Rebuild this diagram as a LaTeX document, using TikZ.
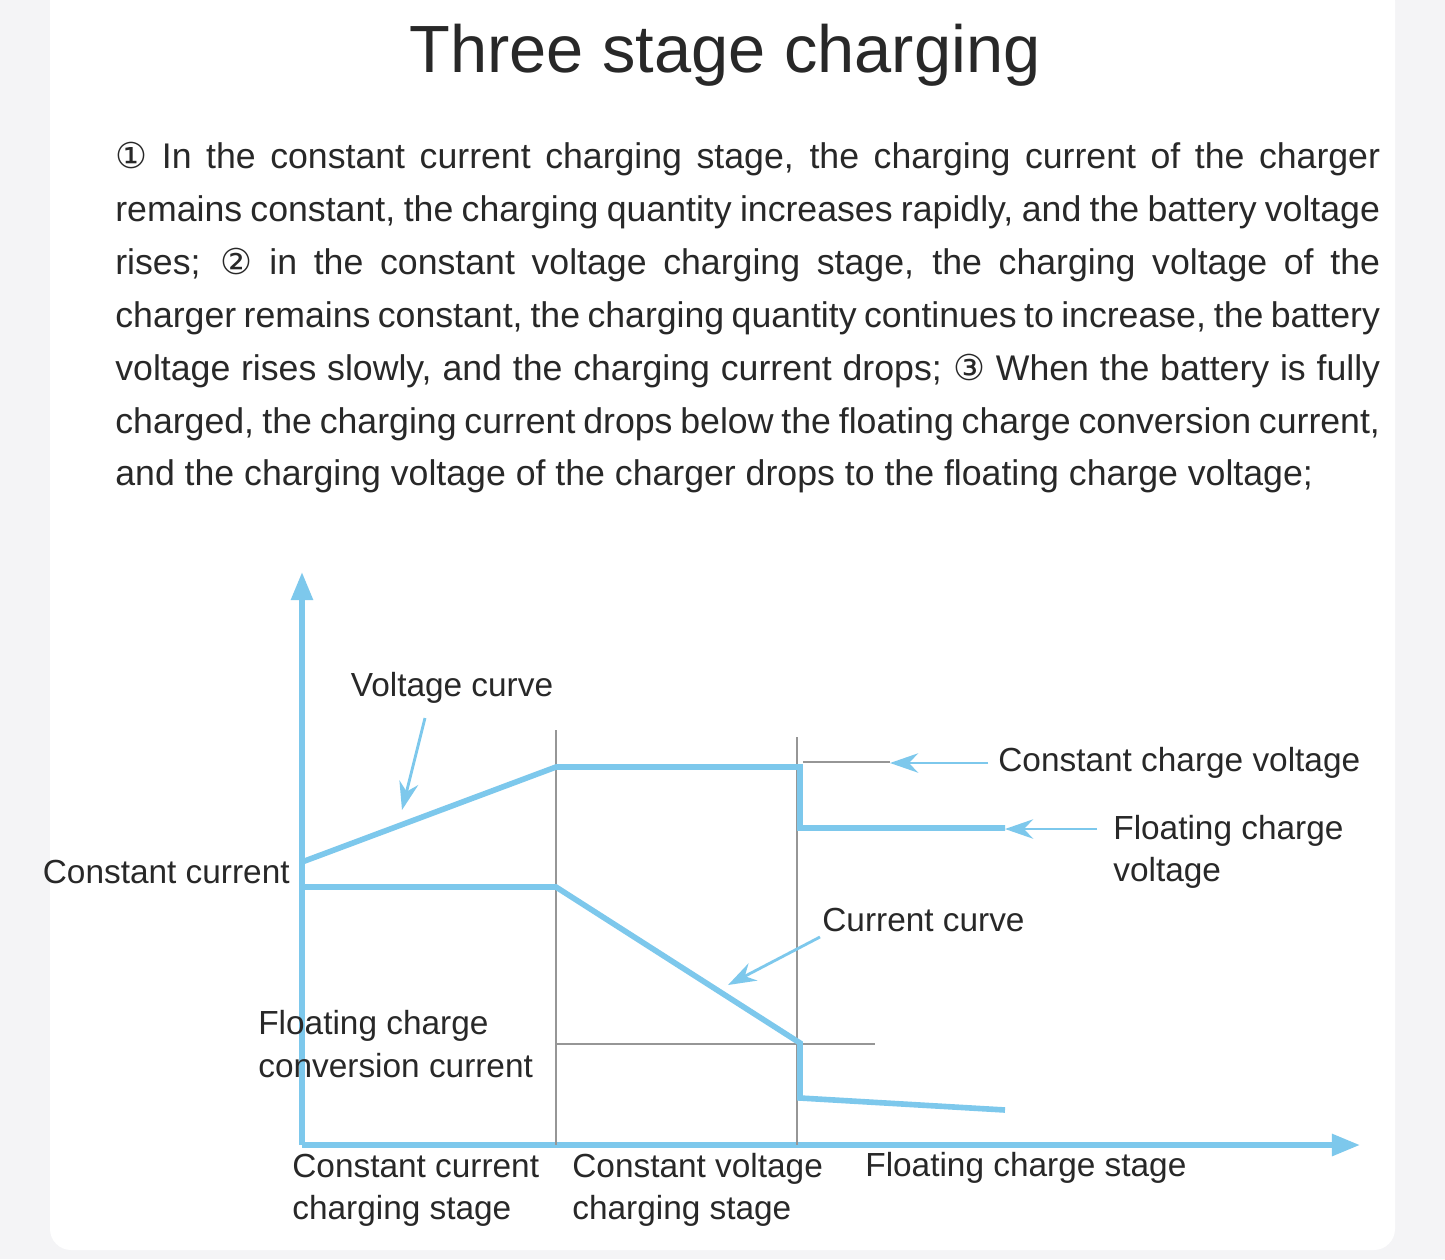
\documentclass[tikz,border=0pt]{standalone}
\usepackage{fontspec}
\setmainfont{Liberation Sans}
\newfontfamily\symfont{DejaVu Sans}
\usepackage{tikz}
\usetikzlibrary{arrows.meta,positioning}
\definecolor{chblue}{RGB}{125,200,236}
\definecolor{chgray}{RGB}{150,150,150}
\definecolor{chtext}{RGB}{40,40,40}
\definecolor{chback}{RGB}{244,244,246}
\tikzset{
  curve/.style={line width=3.2pt,color=chblue},
  axis/.style={line width=3.2pt,color=chblue,-{Triangle[length=16pt,width=12pt]}},
  pointer/.style={line width=1.6pt,color=chblue,-{Stealth[length=16pt,width=11pt]}},
  guide/.style={line width=0.6pt,color=chgray},
  lbl/.style={font=\fontsize{19}{25}\selectfont,text=chtext,inner sep=0pt,align=left}
}
\begin{document}
\begin{tikzpicture}[x=0.02cm,y=-0.02cm]
    % Background and panel
    \useasboundingbox (0,0) rectangle (1445,1259);
    \fill[chback] (0,0) rectangle (1445,1259);
    \fill[white,rounded corners=12pt] (50,-20) rectangle (1395,1250);

    % Title and text
    \node[lbl,font=\fontsize{38}{44}\selectfont] (title) at (725,55) {Three stage charging};
    \node[lbl,anchor=north west,text width=25.3cm,align=justify,
          font=\fontsize{20.3}{30.1}\selectfont] (body) at (115,142)
      {{\symfont ①} In the constant current charging stage, the charging current of the charger\linebreak
       remains constant, the charging quantity increases rapidly, and the battery voltage\linebreak
       rises; {\symfont ②} in the constant voltage charging stage, the charging voltage of the\linebreak
       charger remains constant, the charging quantity continues to increase, the battery\linebreak
       voltage rises slowly, and the charging current drops; {\symfont ③} When the battery is fully\linebreak
       charged, the charging current drops below the floating charge conversion current,\linebreak
       and the charging voltage of the charger drops to the floating charge voltage;\par};

    % Axes
    \coordinate (o) at (302,1145);
    \coordinate (ytop) at (302,572);
    \coordinate (xend) at (1360,1145);
    \draw[axis] (o) -- (ytop);
    \draw[axis] (o) -- (xend);

    % Stage separators
    \draw[guide] (556,730) -- (556,1145);
    \draw[guide] (797,737) -- (797,1145);
    \draw[guide] (803,762) -- (890,762);
    \draw[guide] (556,1044) -- (875,1044);

    % Voltage curve
    \coordinate (v0) at (302,862);
    \coordinate (v1) at (556,767);
    \coordinate (v2) at (800,767);
    \coordinate (v3) at (800,828);
    \coordinate (v4) at (1005,828);
    \draw[curve] (v0) -- (v1) -- (v2) -- (v3) -- (v4);

    % Current curve
    \coordinate (c0) at (302,887);
    \coordinate (c1) at (556,887);
    \coordinate (c2) at (800,1043);
    \coordinate (c3) at (800,1098);
    \coordinate (c4) at (1005,1110);
    \draw[curve] (c0) -- (c1) -- (c2) -- (c3) -- (c4);

    % Labels
    \node[lbl] (vcurve) at (452,688) {Voltage curve};
    \node[lbl,anchor=east] (ccur) at (290,872) {Constant current};
    \node[lbl,anchor=west] (cvolt) at (998,763) {Constant charge voltage};
    \node[lbl,anchor=west] (fvolt) at (1113,852) {Floating charge\\[-1pt]voltage};
    \node[lbl,anchor=west] (icurve) at (822,920) {Current curve};
    \node[lbl,anchor=west] (fconv) at (258,1044) {Floating charge\\[-1pt]conversion current};
    \node[lbl,anchor=west] (st1) at (292,1190) {Constant current\\[-1pt]charging stage};
    \node[lbl,anchor=west] (st2) at (572,1190) {Constant voltage\\[-1pt]charging stage};
    \node[lbl,anchor=west] (st3) at (865,1168) {Floating charge stage};

    % Pointers
    \coordinate (vp) at (425,718);
    \coordinate (ip) at (820,937);
    \draw[pointer] (vp) -- (402,810);
    \draw[pointer] (ip) -- (728,985);
    \draw[pointer] (cvolt.west) ++(-10,0) coordinate (cv) -- (890,763);
    \draw[pointer] (1097,829) coordinate (fv) -- (1005,829);
\end{tikzpicture}
\end{document}
